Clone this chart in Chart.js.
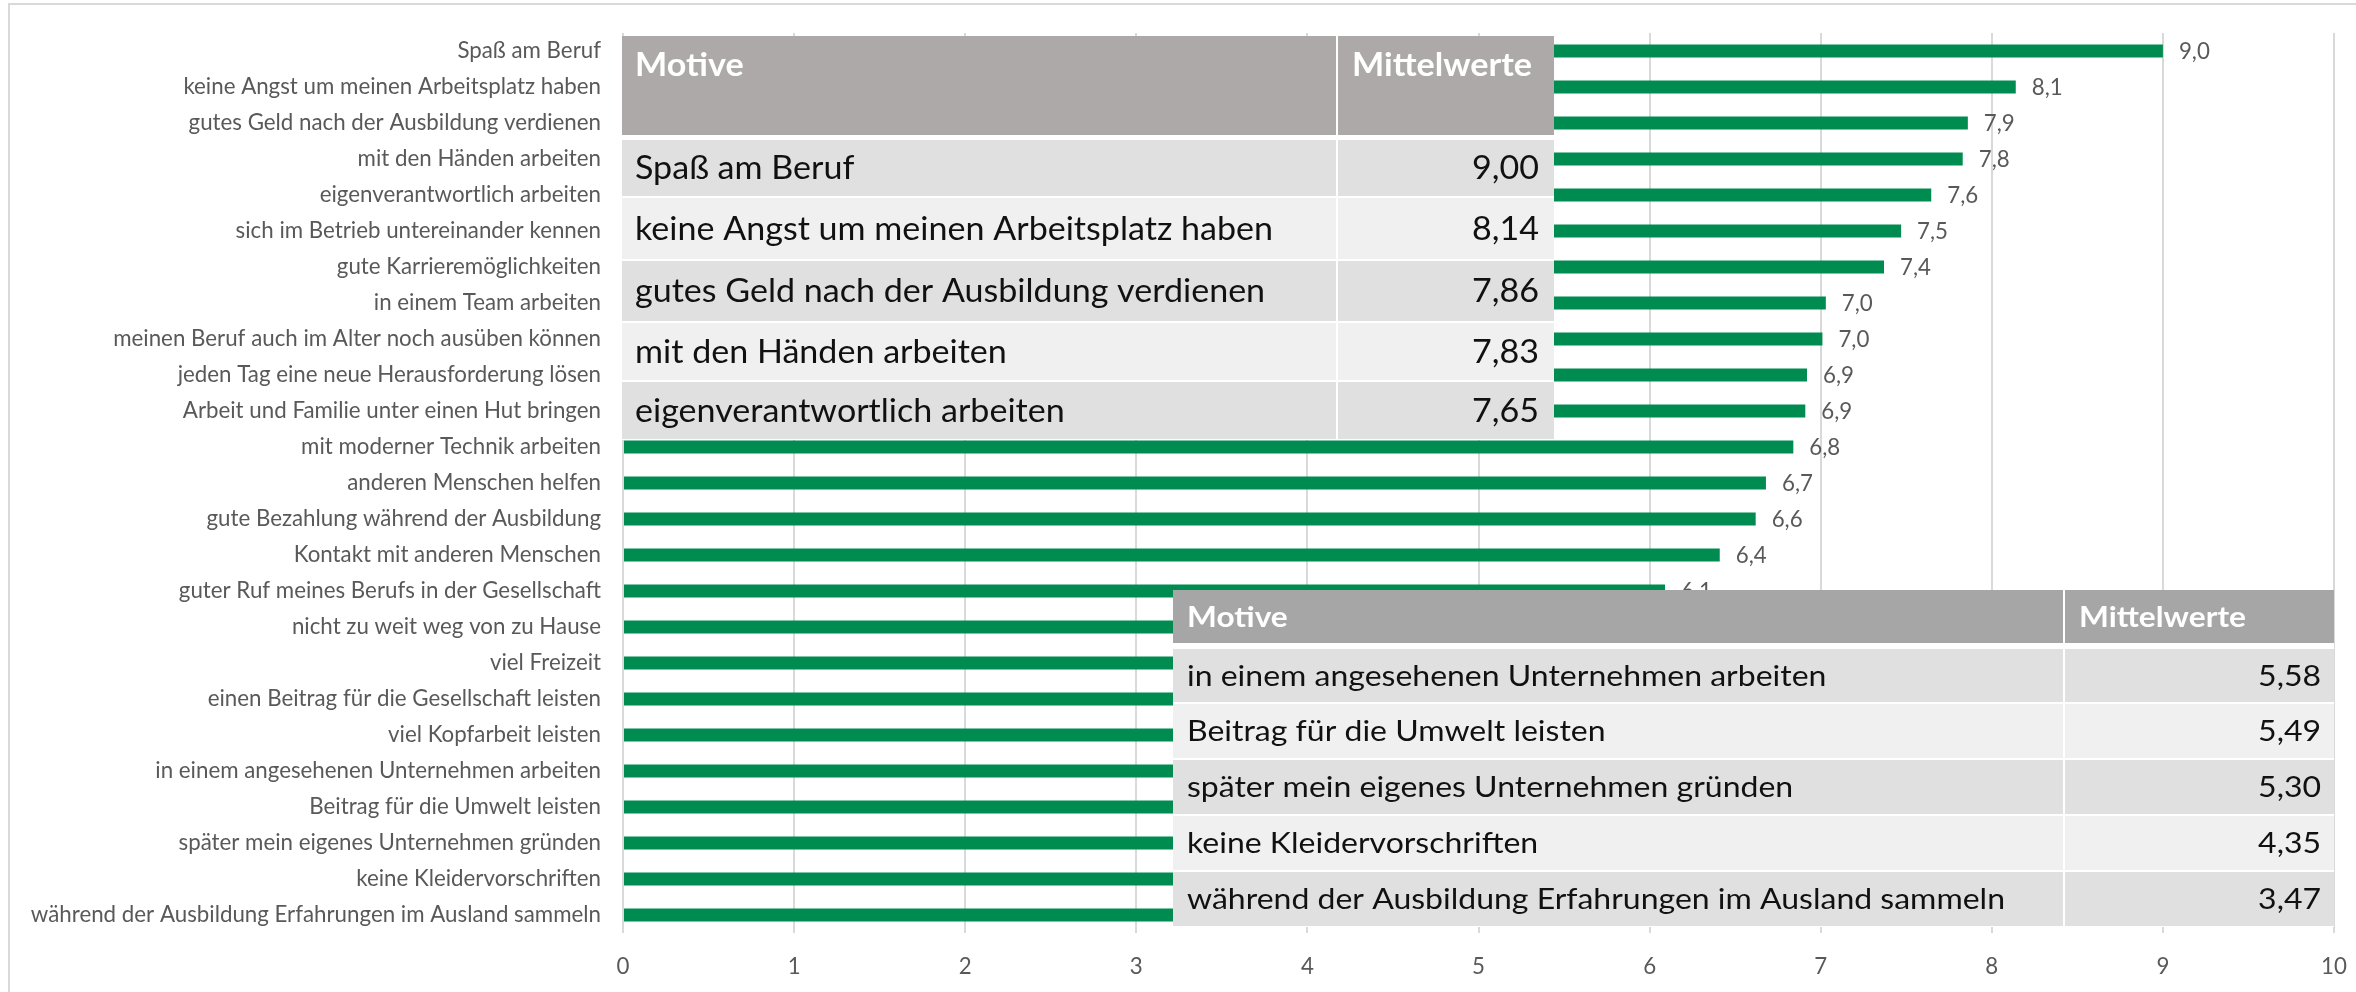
<!DOCTYPE html>
<html><head><meta charset="utf-8">
<script src="https://cdn.jsdelivr.net/npm/chart.js@4"></script>
<style>html,body{margin:0;padding:0;background:#fff;}canvas{display:block;}</style>
</head><body>
<canvas id="c" width="2356" height="992"></canvas>
<script>
// ---------- DATA ----------
const categories = [
  'Spaß am Beruf',
  'keine Angst um meinen Arbeitsplatz haben',
  'gutes Geld nach der Ausbildung verdienen',
  'mit den Händen arbeiten',
  'eigenverantwortlich arbeiten',
  'sich im Betrieb untereinander kennen',
  'gute Karrieremöglichkeiten',
  'in einem Team arbeiten',
  'meinen Beruf auch im Alter noch ausüben können',
  'jeden Tag eine neue Herausforderung lösen',
  'Arbeit und Familie unter einen Hut bringen',
  'mit moderner Technik arbeiten',
  'anderen Menschen helfen',
  'gute Bezahlung während der Ausbildung',
  'Kontakt mit anderen Menschen',
  'guter Ruf meines Berufs in der Gesellschaft',
  'nicht zu weit weg von zu Hause',
  'viel Freizeit',
  'einen Beitrag für die Gesellschaft leisten',
  'viel Kopfarbeit leisten',
  'in einem angesehenen Unternehmen arbeiten',
  'Beitrag für die Umwelt leisten',
  'später mein eigenes Unternehmen gründen',
  'keine Kleidervorschriften',
  'während der Ausbildung Erfahrungen im Ausland sammeln'
];
const values = [9.00, 8.14, 7.86, 7.83, 7.646, 7.47, 7.37, 7.03, 7.01, 6.92, 6.91, 6.84, 6.68, 6.62, 6.41, 6.09, 6.0, 5.9, 5.8, 5.7, 5.58, 5.49, 5.30, 4.35, 3.47];
const xTickValues = [0, 1, 2, 3, 4, 5, 6, 7, 8, 9, 10];
const tableHeader = ['Motive', 'Mittelwerte'];
const upperMotives = ['Spaß am Beruf', 'keine Angst um meinen Arbeitsplatz haben', 'gutes Geld nach der Ausbildung verdienen', 'mit den Händen arbeiten', 'eigenverantwortlich arbeiten'];
const upperMeans = [9.00, 8.14, 7.86, 7.83, 7.65];
const lowerMotives = ['in einem angesehenen Unternehmen arbeiten', 'Beitrag für die Umwelt leisten', 'später mein eigenes Unternehmen gründen', 'keine Kleidervorschriften', 'während der Ausbildung Erfahrungen im Ausland sammeln'];
const lowerMeans = [5.58, 5.49, 5.30, 4.35, 3.47];

// ---------- STYLE ----------
const FONT = 'Lato, "Open Sans", sans-serif';
const GREEN = '#008C50';
const GREY_TXT = '#595959';
const mctx = document.createElement('canvas').getContext('2d');
function measure(t, size, weight) { mctx.font = (weight || 'normal') + ' ' + size + 'px ' + FONT; return mctx.measureText(t).width; }
const labelSize = Math.round(20 * 571 / measure('während der Ausbildung Erfahrungen im Ausland sammeln', 20) * 10) / 10;
const fmt1 = v => (Math.round(v * 10) / 10).toFixed(1).replace('.', ',');
const fmt2 = v => v.toFixed(2).replace('.', ',');

const framePlugin = {
  id: 'frame',
  beforeDraw(chart) {
    const c = chart.ctx;
    c.save();
    c.fillStyle = '#fff';
    c.fillRect(0, 0, chart.width, chart.height);
    c.strokeStyle = '#D9D9D9';
    c.lineWidth = 2;
    c.beginPath();
    c.moveTo(9, chart.height + 5);
    c.lineTo(9, 4);
    c.lineTo(chart.width + 5, 4);
    c.stroke();
    c.restore();
  }
};

const valueLabelPlugin = {
  id: 'valueLabels',
  afterDatasetsDraw(chart) {
    const c = chart.ctx;
    const meta = chart.getDatasetMeta(0);
    c.save();
    c.font = labelSize + 'px ' + FONT;
    c.fillStyle = GREY_TXT;
    c.textAlign = 'left';
    c.textBaseline = 'middle';
    meta.data.forEach((bar, i) => {
      c.fillText(fmt1(chart.data.datasets[0].data[i]), bar.x + 16, bar.y + 1);
    });
    c.restore();
  }
};

function drawFitText(c, text, x, y, size, weight, color, align, sx) {
  c.save();
  c.font = weight + ' ' + size + 'px ' + FONT;
  c.fillStyle = color;
  c.textBaseline = 'middle';
  c.textAlign = align;
  c.translate(x, y);
  c.scale(sx, 1);
  c.fillText(text, 0, 0);
  c.restore();
}

function drawTable(c, t, motives, means) {
  const bottom = t.rows[t.rows.length - 1][1];
  c.fillStyle = '#FFFFFF';
  c.fillRect(t.x0, t.headerTop, t.x1 - t.x0, bottom - t.headerTop + 1);
  c.fillStyle = t.headerColor;
  c.fillRect(t.x0, t.headerTop, t.x1 - t.x0, t.headerBottom - t.headerTop);
  t.rows.forEach((r, i) => {
    c.fillStyle = i % 2 === 0 ? '#E0E0E0' : '#F0F0F0';
    c.fillRect(t.x0, r[0], t.x1 - t.x0, r[1] - r[0]);
  });
  c.fillStyle = '#FFFFFF';
  c.fillRect(t.split - 1, t.headerTop, 2, bottom - t.headerTop);
  const bodySx = t.longWidth / measure(t.longText, t.size, 'normal');
  const headSx = t.headWidth / measure(tableHeader[1], t.size, 'bold');
  drawFitText(c, tableHeader[0], t.textX, t.headerTextY, t.size, 'bold', '#FFFFFF', 'left', headSx);
  drawFitText(c, tableHeader[1], t.headX2, t.headerTextY, t.size, 'bold', '#FFFFFF', 'left', headSx);
  t.rows.forEach((r, i) => {
    const cy = (r[0] + r[1]) / 2 + 1;
    drawFitText(c, motives[i], t.textX, cy, t.size, 'normal', '#111111', 'left', bodySx);
    drawFitText(c, fmt2(means[i]), t.valueRight, cy, t.size, 'normal', '#111111', 'right', bodySx);
  });
}

const tablesPlugin = {
  id: 'tables',
  afterDraw(chart) {
    const c = chart.ctx;
    c.save();
    drawTable(c, {
      x0: 622, x1: 1554, split: 1337, headerTop: 36, headerBottom: 135, headerColor: '#ADA9A8',
      rows: [[140, 196], [198, 259], [261, 321], [323, 380], [382, 439]],
      textX: 635, headX2: 1352, headerTextY: 66, valueRight: 1539,
      size: 32, longText: upperMotives[1], longWidth: 638, headWidth: 180
    }, upperMotives, upperMeans);
    drawTable(c, {
      x0: 1173, x1: 2334, split: 2064, headerTop: 590, headerBottom: 643, headerColor: '#A6A6A6',
      rows: [[649, 702], [704, 758], [760, 814], [816, 870], [872, 926]],
      textX: 1187, headX2: 2079, headerTextY: 618, valueRight: 2321,
      size: 28, longText: lowerMotives[4], longWidth: 818, headWidth: 167
    }, lowerMotives, lowerMeans);
    c.restore();
  }
};

new Chart(document.getElementById('c'), {
  type: 'bar',
  data: {
    labels: categories,
    datasets: [{ data: values, backgroundColor: GREEN, borderWidth: 0, barPercentage: 0.355, categoryPercentage: 1 }]
  },
  options: {
    indexAxis: 'y',
    responsive: false,
    animation: false,
    devicePixelRatio: 1,
    layout: { padding: { left: 10, right: 22, top: 33, bottom: 0 } },
    plugins: { legend: { display: false }, tooltip: { enabled: false } },
    scales: {
      x: {
        min: 0, max: 10,
        afterBuildTicks: s => { s.ticks = xTickValues.map(v => ({ value: v })); },
        grid: { color: '#D9D9D9', lineWidth: 2, drawTicks: false },
        border: { display: false },
        ticks: { color: GREY_TXT, font: { family: FONT, size: labelSize }, padding: 20, maxRotation: 0, callback: v => String(v) },
        afterFit: s => { s.height = 59; s.paddingLeft = 0; s.paddingRight = 0; }
      },
      y: {
        grid: { display: false, drawTicks: false },
        border: { display: false },
        ticks: { color: GREY_TXT, font: { family: FONT, size: labelSize }, padding: 22, autoSkip: false },
        afterFit: s => { s.width = 613; s.paddingTop = 0; s.paddingBottom = 0; }
      }
    }
  },
  plugins: [framePlugin, valueLabelPlugin, tablesPlugin]
});
</script>
</body></html>
